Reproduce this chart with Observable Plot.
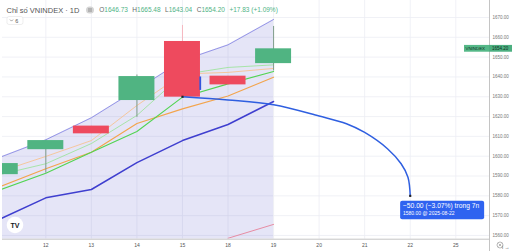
<!DOCTYPE html>
<html><head><meta charset="utf-8">
<script src="https://cdn.jsdelivr.net/npm/d3@7"></script>
<script src="https://cdn.jsdelivr.net/npm/@observablehq/plot@0.6"></script>
<style>
html,body{margin:0;padding:0;background:#fff;}
#wrap{position:relative;width:512px;height:251px;overflow:hidden;font-family:"Liberation Sans",Arial,sans-serif;}
#wrap svg{position:absolute;left:0;top:0;}
</style></head><body><div id="wrap"></div>
<script>
// ---- data ----
const dayLabels = ["11","12","13","14","15","18","19","20","21","22","25"];
const candleIdx = [0,1,2,3,4,5,6];
const openV  = [1590.7,1603.3,1615.2,1628.1,1657.9,1640.4,1646.73];
const closeV = [1596.3,1607.9,1611.3,1640.2,1629.8,1636.0,1654.20];
const highV  = [1596.3,1608.0,1615.2,1641.0,1666.0,1640.4,1665.48];
const lowV   = [1590.7,1591.4,1611.3,1619.6,1629.3,1636.0,1643.04];
const bandUpper    = [1599.5,1608.3,1619.4,1633.7,1648.3,1656.2,1669.0];
const lowerBlue    = [1568.4,1579.0,1583.2,1596.8,1607.9,1616.0,1627.6];
const maGreen      = [1583.1,1591.4,1602.0,1612.5,1629.8,1636.5,1642.8];
const maOrange     = [1584.7,1593.7,1602.0,1616.5,1623.9,1630.4,1639.9];
const maLightGreen = [1590.8,1596.2,1606.4,1620.6,1641.2,1644.8,1646.1];
const maPeach      = [1592.3,1599.9,1607.9,1625.6,1641.5,1642.3,1644.3];
const pinkIdx  = [5,6];
const pinkVals = [1558.6,1565.6];
const fcIdx  = [4,5,6,7,7.6,8,8.5,8.8,8.95,9];
const fcVals = [1630,1628.4,1626,1620.3,1616.4,1612,1603.8,1596.2,1589.4,1580];
const markIdx = [4.39]; const markTop = [1640.0]; const markBot = [1633.2];
const priceTicks = [1560,1570,1580,1590,1600,1610,1620,1630,1640,1650,1660,1670];
const xTickIdx = [1,2,3,4,5,6,7,8,9,10];
const lastClose = 1654.20;
const ohlcText = {O:"1646.73",H:"1665.48",L:"1643.04",C:"1654.20",chg:"+17.83 (+1.09%)"};
const fcText1 = "\u221250.00 (\u22123.07%) trong 7n";
const fcText2 = "1580.00 @ 2025-08-22";

// ---- tables ----
const candles = candleIdx.map((i,k)=>({i,open:openV[k],close:closeV[k],high:highV[k],low:lowV[k]}));
const series = (vals)=>candleIdx.map((i,k)=>({i,v:vals[k]}));
const pink = pinkIdx.map((i,k)=>({i,v:pinkVals[k]}));
const fc = fcIdx.map((i,k)=>({i,v:fcVals[k]}));
const yDom = [1558.13,1678.58];
const GREEN="#50b482", RED="#ee4a5e";
const hw = 0.395;

const chart = Plot.plot({
  width:512, height:251,
  marginLeft:2, marginRight:23, marginTop:0, marginBottom:12.3,
  x:{type:"linear", domain:[0.049,10.74]},
  y:{domain:yDom},
  style:{fontFamily:"Liberation Sans, Arial, sans-serif", color:"#777", background:"transparent"},
  marks:[
    Plot.ruleY(priceTicks,{stroke:"#eceef4", strokeWidth:0.8}),
    Plot.ruleX(xTickIdx,{stroke:"#eceef4", strokeWidth:0.8}),
    Plot.areaY(series(bandUpper),{x:"i", y1:()=>yDom[0], y2:"v", fill:"#6f6fd0", fillOpacity:0.18, clip:true}),
    Plot.line(series(bandUpper),{x:"i", y:"v", stroke:"#8080e2", strokeWidth:0.8, clip:true}),
    Plot.line(pink,{x:"i", y:"v", stroke:"#e7829a", strokeWidth:0.9, clip:true}),
    Plot.line(series(lowerBlue),{x:"i", y:"v", stroke:"#3f3fcf", strokeWidth:1.5, clip:true}),
    Plot.line(series(maOrange),{x:"i", y:"v", stroke:"#f3a44c", strokeWidth:1.1, clip:true}),
    Plot.line(series(maPeach),{x:"i", y:"v", stroke:"#f6c393", strokeWidth:0.9, clip:true}),
    Plot.line(series(maLightGreen),{x:"i", y:"v", stroke:"#9fe39f", strokeWidth:0.9, clip:true}),
    Plot.line(series(maGreen),{x:"i", y:"v", stroke:"#52d452", strokeWidth:1.1, clip:true}),
    Plot.ruleX(candles,{x:"i", y1:"low", y2:"high", stroke:d=>d.close>=d.open?"#7f9d8a":"#f5b8c0", strokeWidth:1, clip:true}),
    Plot.rect(candles,{x1:d=>d.i-hw, x2:d=>d.i+hw, y1:"open", y2:"close", fill:d=>d.close>=d.open?GREEN:RED, clip:true}),
    Plot.ruleX(markIdx,{x:d=>d, y1:(d,k)=>markBot[k], y2:(d,k)=>markTop[k], stroke:"#3355dd", strokeWidth:1.8}),
    Plot.line(fc,{x:"i", y:"v", curve:"catmull-rom", stroke:"#2f5fe0", strokeWidth:1.5}),
    Plot.dot(fc.filter((d,k)=>k===0||k===fc.length-1),{x:"i", y:"v", symbol:"square", r:1.2, fill:"#222"}),
    Plot.axisY(priceTicks,{anchor:"right", tickSize:0, tickPadding:3, tickFormat:d=>d.toFixed(2), fontSize:4.5}),
    Plot.axisX(xTickIdx,{anchor:"bottom", tickSize:0, tickPadding:4.2, tickFormat:i=>dayLabels[i], fontSize:5, fill:"#555"}),
    Plot.frame({anchor:"right", stroke:"#c4c4c4"}),
    Plot.frame({anchor:"bottom", stroke:"#c4c4c4"})
  ]
});
const wrap = document.getElementById("wrap");
wrap.appendChild(chart);

const xs = chart.scale("x"), ys = chart.scale("y");
const ov = d3.select(wrap).append("svg").attr("width",512).attr("height",251)
  .style("font-family","Liberation Sans, Arial, sans-serif");

// axis stub below right axis
ov.append("line").attr("x1",489.5).attr("x2",489.5).attr("y1",238).attr("y2",251).attr("stroke","#c4c4c4");

// header
ov.append("text").attr("x",6.5).attr("y",13.2).attr("font-size",7.5).attr("fill","#555").text("Chỉ số VNINDEX · 1D");
ov.append("rect").attr("x",86).attr("y",6.5).attr("width",8).attr("height",7).attr("rx",3.5).attr("fill","#d4d4d4");
ov.append("line").attr("x1",88).attr("x2",92).attr("y1",9).attr("y2",9).attr("stroke","#777").attr("stroke-width",0.7);
ov.append("line").attr("x1",88).attr("x2",92).attr("y1",11).attr("y2",11).attr("stroke","#777").attr("stroke-width",0.7);
const t = ov.append("text").attr("x",99.3).attr("y",12.2).attr("font-size",6.5).attr("fill","#4fb386");
["O","H","L","C"].forEach((k,j)=>{
  t.append("tspan").attr("fill","#6a6a6a").attr("dx", j===0?0:4.5).text(k);
  t.append("tspan").text(ohlcText[k]);
});
t.append("tspan").attr("dx",4.5).text(ohlcText.chg);
ov.append("rect").attr("x",7).attr("y",16.5).attr("width",16).attr("height",8).attr("rx",2)
  .attr("fill","#fff").attr("stroke","#e2e2e2").attr("stroke-width",0.6);
ov.append("path").attr("d","M10,19.6 L11.5,21.1 L13,19.6").attr("fill","none").attr("stroke","#666").attr("stroke-width",0.6);
ov.append("text").attr("x",15.2).attr("y",22.5).attr("font-size",5.5).attr("fill","#555").text("6");

// TV logo
ov.append("circle").attr("cx",15).attr("cy",225).attr("r",8.3).attr("fill","#fff");
ov.append("text").attr("x",15).attr("y",227.5).attr("text-anchor","middle").attr("font-size",7).attr("font-weight","bold").attr("fill","#131722").text("TV");

// bottom-right icon
ov.append("circle").attr("cx",500).attr("cy",245).attr("r",3).attr("fill","none").attr("stroke","#888").attr("stroke-width",0.6);
ov.append("path").attr("d","M498.6,243.6 L501.4,246.4 M501.4,243.6 L498.6,246.4").attr("stroke","#888").attr("stroke-width",0.6);

// price tag
const py = ys.apply(lastClose);
ov.append("rect").attr("x",464).attr("y",py-3.4).attr("width",25).attr("height",6.8).attr("fill","#55b888");
ov.append("rect").attr("x",489).attr("y",py-3.4).attr("width",23).attr("height",6.8).attr("fill","#4caf80");
ov.append("text").attr("x",465.5).attr("y",py+1.6).attr("font-size",4.4).attr("fill","#10301f").text("VNINDEX");
ov.append("text").attr("x",492).attr("y",py+1.6).attr("font-size",4.5).attr("fill","#10301f").text(lastClose.toFixed(2));

// forecast label
const ex = xs.apply(fcIdx[fcIdx.length-1]), ey = ys.apply(fcVals[fcVals.length-1]);
ov.append("rect").attr("x",ex-9.6).attr("y",ey+5.3).attr("width",84).attr("height",18.5).attr("rx",2).attr("fill","#2f63f0");
ov.append("text").attr("x",ex-6.8).attr("y",ey+12.8).attr("font-size",6.7).attr("fill","#fff").text(fcText1);
ov.append("text").attr("x",ex-6.8).attr("y",ey+20).attr("font-size",5).attr("fill","#fff").text(fcText2);
</script></body></html>
